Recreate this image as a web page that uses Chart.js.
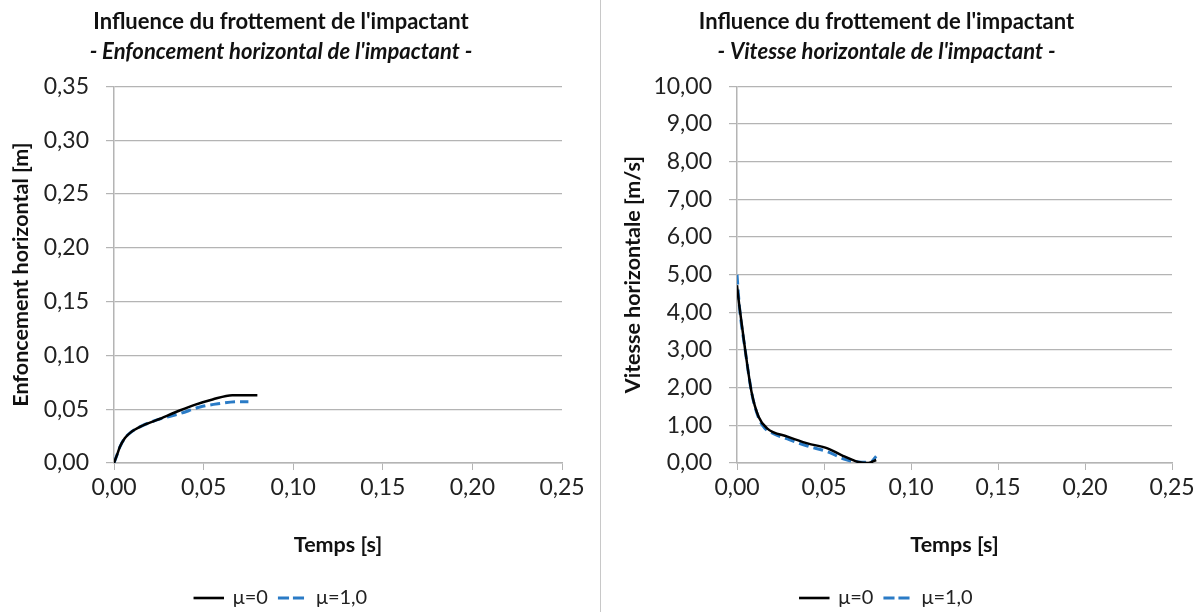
<!DOCTYPE html>
<html>
<head>
<meta charset="utf-8">
<script src="https://cdn.jsdelivr.net/npm/chart.js@4.4.1/dist/chart.umd.min.js"></script>
<style>
  html, body { margin: 0; padding: 0; background: #fff; }
  #wrap { display: flex; width: 1202px; height: 612px; }
  .box { position: relative; height: 612px; }
  #leftBox { width: 600px; }
  #rightBox { width: 601px; border-left: 1px solid #c8c8c8; }
</style>
</head>
<body>
<div id="wrap">
  <div class="box" id="leftBox"><canvas id="enfChart"></canvas></div>
  <div class="box" id="rightBox"><canvas id="vitChart"></canvas></div>
</div>
<script>
// Enfoncement horizontal (m) vs temps (s)
const enfT0 = [0, 0.002, 0.0033, 0.006, 0.009, 0.015, 0.024, 0.037, 0.045, 0.055, 0.066, 0.075, 0.080];
const enfY0 = [0, 0.009, 0.015, 0.023, 0.028, 0.034, 0.040, 0.049, 0.054, 0.059, 0.063, 0.063, 0.063];
const enfT1 = [0, 0.002, 0.0033, 0.006, 0.009, 0.015, 0.024, 0.037, 0.048, 0.058, 0.070, 0.075];
const enfY1 = [0, 0.009, 0.015, 0.023, 0.028, 0.034, 0.040, 0.046, 0.052, 0.055, 0.057, 0.057];

// Vitesse horizontale (m/s) vs temps (s)
const vitT0 = [0, 0.0005, 0.0014, 0.0047, 0.0085, 0.0124, 0.0173, 0.029, 0.0405, 0.052, 0.060, 0.0696, 0.0754, 0.080];
const vitY0 = [4.72, 4.5, 4.15, 3.0, 1.85, 1.23, 0.92, 0.70, 0.52, 0.39, 0.21, 0.03, 0.0, 0.08];
const vitT1 = [0, 0.0014, 0.0047, 0.0085, 0.0124, 0.016, 0.021, 0.030, 0.0405, 0.052, 0.062, 0.0715, 0.077, 0.080];
const vitY1 = [5.0, 4.15, 3.0, 1.85, 1.2, 0.92, 0.78, 0.62, 0.45, 0.30, 0.10, 0.02, 0.03, 0.18];

const xTicks = [0, 0.05, 0.10, 0.15, 0.20, 0.25];
const seriesNames = ['μ=0', 'μ=1,0'];

const FONT = 'Lato, "Open Sans", sans-serif';
const GRID = '#b4b4b4';

function pts(xs, ys) {
    return xs.map((x, i) => ({ x: x, y: ys[i] }));
}

function fr(v) {
    return v.toFixed(2).replace('.', ',');
}

function makeChart(id, subtitle, yTitle, yMax, yStep, yWidth, yTitlePad, padRight, d0, d1) {
    const ctx = document.getElementById(id).getContext('2d');
    return new Chart(ctx, {
        type: 'scatter',
        data: {
            datasets: [
                {
                    label: seriesNames[0],
                    data: d0,
                    showLine: true,
                    borderColor: '#000000',
                    backgroundColor: 'rgba(0,0,0,0)',
                    borderWidth: 2.5,
                    pointRadius: 0,
                    cubicInterpolationMode: 'monotone',
                },
                {
                    label: seriesNames[1],
                    data: d1,
                    showLine: true,
                    borderColor: '#2a7bc6',
                    backgroundColor: 'rgba(0,0,0,0)',
                    borderWidth: 3,
                    borderDash: [10, 5],
                    pointRadius: 0,
                    cubicInterpolationMode: 'monotone',
                }
            ]
        },
        options: {
            responsive: true,
            maintainAspectRatio: false,
            animation: false,
            layout: { padding: { top: 0, right: padRight, bottom: -6, left: 0 } },
            scales: {
                x: {
                    type: 'linear',
                    min: 0,
                    max: 0.25,
                    afterBuildTicks: (axis) => { axis.ticks = xTicks.map(v => ({ value: v })); },
                    afterFit: (axis) => { axis.height = 115; },
                    grid: { drawOnChartArea: false, drawTicks: true, tickLength: 7, color: GRID },
                    border: { color: GRID, width: 1.5 },
                    ticks: {
                        color: '#222',
                        font: { family: FONT, size: 23 },
                        padding: 4,
                        maxRotation: 0,
                        callback: (v) => fr(v)
                    },
                    title: {
                        display: true,
                        text: 'Temps [s]',
                        color: '#111',
                        font: { family: FONT, size: 21.5, weight: 'bold' },
                        padding: { top: 0, bottom: 20 }
                    }
                },
                y: {
                    min: 0,
                    max: yMax,
                    ticks: {
                        stepSize: yStep,
                        color: '#222',
                        font: { family: FONT, size: 23 },
                        padding: 17,
                        callback: (v) => fr(v)
                    },
                    afterFit: (axis) => { axis.width = yWidth; },
                    grid: { color: GRID, lineWidth: 1.2, tickLength: 8 },
                    border: { color: GRID, width: 1.5 },
                    title: {
                        display: true,
                        text: yTitle,
                        color: '#111',
                        font: { family: FONT, size: 21.5, weight: 'bold' },
                        padding: { top: yTitlePad, bottom: 0 }
                    }
                }
            },
            plugins: {
                title: {
                    display: true,
                    text: "Influence du frottement de l'impactant",
                    color: '#111',
                    font: { family: FONT, size: 22, weight: 'bold' },
                    padding: { top: 9, bottom: 3.5 }
                },
                subtitle: {
                    display: true,
                    text: '- ' + subtitle + ' -',
                    color: '#111',
                    font: { family: FONT, size: 22, weight: 'bold', style: 'italic' },
                    padding: { top: 0, bottom: 21 }
                },
                legend: {
                    display: true,
                    position: 'bottom',
                    labels: {
                        color: '#222',
                        font: { family: FONT, size: 20 },
                        boxWidth: 28,
                        boxHeight: 0.1,
                        padding: 10
                    }
                },
                tooltip: { enabled: false }
            }
        }
    });
}

makeChart('enfChart', 'Enfoncement horizontal de l\'impactant', 'Enfoncement horizontal [m]',
    0.35, 0.05, 114, 8, 38, pts(enfT0, enfY0), pts(enfT1, enfY1));
makeChart('vitChart', 'Vitesse horizontale de l\'impactant', 'Vitesse horizontale [m/s]',
    10, 1, 136, 19, 30, pts(vitT0, vitY0), pts(vitT1, vitY1));
</script>
</body>
</html>
